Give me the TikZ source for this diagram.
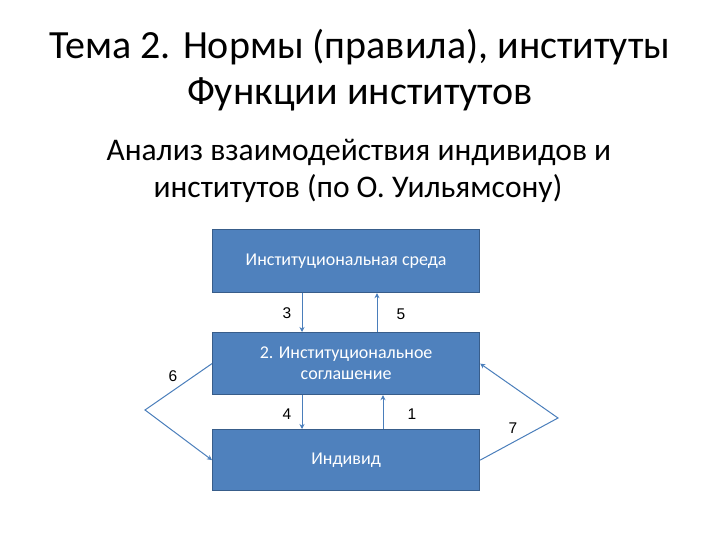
\documentclass[tikz,border=0pt]{standalone}
\usepackage{fontspec}
\usetikzlibrary{arrows.meta}
\setmainfont{Carlito}
\newfontfamily\arialf{Liberation Sans}
\definecolor{boxfill}{HTML}{4F81BD}
\definecolor{boxline}{HTML}{385D8A}
\definecolor{arr}{HTML}{4A7EBB}
\begin{document}
\begin{tikzpicture}[x=1pt,y=-1pt,
  blk/.style={draw=boxline,line width=1.2pt,fill=boxfill,text=white,minimum width=267pt,align=center,font=\fontsize{18}{21}\selectfont,anchor=north west,inner sep=0pt},
  con/.style={draw=arr,line width=1pt,-{Stealth[length=5pt,width=5pt]}},
  num/.style={font=\arialf\fontsize{15.5}{18}\selectfont}]
\useasboundingbox (0,0) rectangle (720,540);
\node[font=\fontsize{40}{46}\selectfont,align=center] (t) at (360,70) {Тема 2. Нормы (правила), институты\\Функции институтов};
\node[font=\fontsize{31.5}{37}\selectfont,align=left,anchor=west] (s) at (103,171) {Анализ взаимодействия индивидов и\\\hspace*{47pt}институтов (по О. Уильямсону)};
\node[blk,minimum height=63pt] (env) at (212,229) {Институциональная среда};
\node[blk,minimum height=62pt] (agr) at (212,332) {2. Институциональное\\соглашение};
\node[blk,minimum height=61pt] (ind) at (212,429) {Индивид};
\coordinate (L) at (145,410);
\coordinate (R) at (558,418);
\draw[con] (env.south -| 302,0) -- (agr.north -| 302,0);
\draw[con] (agr.north -| 377,0) -- (env.south -| 377,0);
\draw[con] (agr.south -| 302,0) -- (ind.north -| 302,0);
\draw[con] (ind.north -| 383,0) -- (agr.south -| 383,0);
\draw[con] (agr.west) -- (L) -- (ind.west);
\draw[con] (ind.east) -- (R) -- (agr.east);
\node[num] (n3) at (287,313) {3};
\node[num] (n5) at (401,314) {5};
\node[num] (n4) at (287,414) {4};
\node[num] (n1) at (412,414) {1};
\node[num] (n6) at (173,376) {6};
\node[num] (n7) at (513,428) {7};
\end{tikzpicture}
\end{document}
